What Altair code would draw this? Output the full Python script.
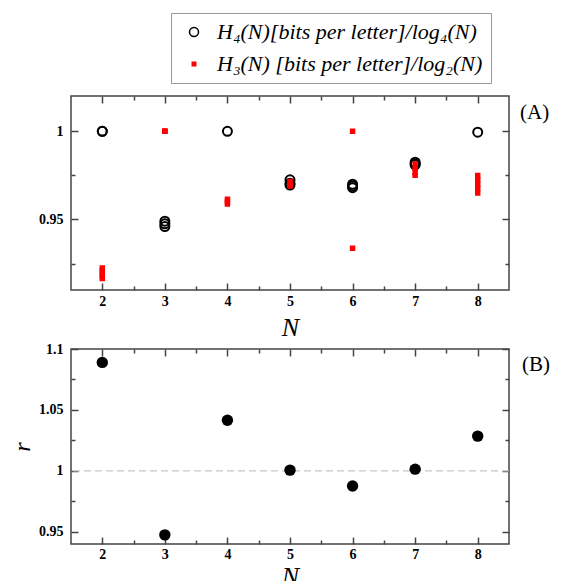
import altair as alt
import pandas as pd

LABEL_H4 = "H₄(N)[bits per letter]/log₄(N)"
LABEL_H3 = "H₃(N) [bits per letter]/log₂(N)"

# Panel A: black open circles
h4_N = [2, 2, 3, 3, 3, 4, 5, 5, 5, 6, 6, 6, 7, 7, 7, 8]
h4_vals = [1.0, 1.0, 0.949, 0.9475, 0.946, 1.0, 0.9725, 0.9705, 0.9695,
           0.970, 0.969, 0.968, 0.9825, 0.9815, 0.981, 0.9995]
# Panel A: red squares
h3_N = [2, 2, 2, 2, 2, 3, 3, 3, 4, 4, 4, 5, 5, 5, 6, 6, 7, 7, 7, 7, 8, 8, 8, 8, 8]
h3_vals = [0.9225, 0.921, 0.9195, 0.918, 0.9165, 1.0, 1.0, 1.0,
           0.9614, 0.960, 0.9588, 0.9715, 0.970, 0.969, 1.0, 0.9337,
           0.9815, 0.979, 0.9765, 0.975, 0.975, 0.9725, 0.970, 0.9675, 0.965]
# Panel B
r_N = [2, 3, 4, 5, 6, 7, 8]
r_vals = [1.089, 0.9475, 1.0415, 1.0006, 0.9876, 1.0014, 1.0285]

x_major = [2, 3, 4, 5, 6, 7, 8]
x_minor = [2.5, 3.5, 4.5, 5.5, 6.5, 7.5]
a_y_major = [0.95, 1.0]
a_y_minor = [0.925, 0.975]
b_y_major = [0.95, 1.0, 1.05, 1.1]
b_y_minor = [0.975, 1.025, 1.075]

dfA = pd.DataFrame({
    "N": h4_N + h3_N,
    "value": h4_vals + h3_vals,
    "series": [LABEL_H4] * len(h4_N) + [LABEL_H3] * len(h3_N),
})
dfB = pd.DataFrame({"N": r_N, "r": r_vals})

SERIF = "Liberation Serif"
W, HA, HB = 438, 194, 195
TICKC = "#444"

ax_common = dict(domain=False, grid=False, tickColor=TICKC, tickWidth=1.5,
                 labelFont=SERIF, labelFontWeight="bold", labelFontSize=14,
                 labelColor="black", format="~g")


def ax(orient, values, size, labels=False, title=None, **kw):
    d = dict(ax_common)
    d.update(kw)
    return alt.Axis(orient=orient, values=values, tickSize=size, offset=-size,
                    labels=labels, title=title, **d)


xscale = alt.Scale(domain=[1.5, 8.5], nice=False, zero=False)
ascale = alt.Scale(domain=[0.91, 1.02], nice=False, zero=False)
bscale = alt.Scale(domain=[0.94, 1.1], nice=False, zero=False)

xtitle = dict(titleFont=SERIF, titleFontStyle="italic", titleFontSize=26,
              titleFontWeight="normal", titleColor="black")


def frame_layers(base, xf, yf, yscale, ymaj, ymin):
    top = base.mark_point(opacity=0).encode(
        x=alt.X(xf, scale=xscale, axis=ax("top", x_major, 7)),
        y=alt.Y(yf, scale=yscale, axis=ax("right", ymaj, 7)))
    minor1 = base.mark_point(opacity=0).encode(
        x=alt.X(xf, scale=xscale, axis=ax("bottom", x_minor, 4)),
        y=alt.Y(yf, scale=yscale, axis=ax("left", ymin, 4)))
    minor2 = base.mark_point(opacity=0).encode(
        x=alt.X(xf, scale=xscale, axis=ax("top", x_minor, 4)),
        y=alt.Y(yf, scale=yscale, axis=ax("right", ymin, 4)))
    return [top, minor1, minor2]


baseA = alt.Chart(dfA)
mainA = baseA.mark_point(strokeWidth=2, opacity=1).encode(
    x=alt.X("N:Q", scale=xscale,
            axis=ax("bottom", x_major, 7, labels=True, title="N",
                    labelPadding=4, titlePadding=6, **xtitle)),
    y=alt.Y("value:Q", scale=ascale,
            axis=ax("left", a_y_major, 7, labels=True, labelPadding=8)),
    shape=alt.Shape("series:N", scale=alt.Scale(domain=[LABEL_H4, LABEL_H3], range=["circle", "square"]),
                    legend=alt.Legend(orient="none", legendX=100, legendY=-83, title=None,
                                      strokeColor="#999", padding=8, rowPadding=10,
                                      labelFont=SERIF, labelFontStyle="italic", labelFontSize=22,
                                      labelColor="black", labelOffset=12, symbolOffset=4,
                                      symbolStrokeWidth=1.5, labelLimit=400)),
    fill=alt.Fill("series:N", scale=alt.Scale(domain=[LABEL_H4, LABEL_H3], range=["transparent", "red"])),
    stroke=alt.Stroke("series:N", scale=alt.Scale(domain=[LABEL_H4, LABEL_H3], range=["black", "red"])),
    size=alt.Size("series:N", scale=alt.Scale(domain=[LABEL_H4, LABEL_H3], range=[81, 12])),
)
tagA = alt.Chart(pd.DataFrame({"t": ["(A)"]})).mark_text(
    align="left", baseline="middle", font=SERIF, fontSize=21, color="black").encode(
    text="t:N", x=alt.value(W + 11), y=alt.value(17))

panelA = alt.layer(mainA, *frame_layers(baseA, "N:Q", "value:Q", ascale, a_y_major, a_y_minor), tagA
                   ).resolve_axis(x="independent", y="independent").properties(width=W, height=HA)

baseB = alt.Chart(dfB)
ruleB = alt.Chart(pd.DataFrame({"one": [1.0]})).mark_rule(
    color="#c8c8c8", strokeDash=[7, 4], strokeWidth=1.2).encode(y=alt.Y("one:Q", scale=bscale, axis=None))
mainB = baseB.mark_circle(size=130, color="black", opacity=1).encode(
    x=alt.X("N:Q", scale=xscale,
            axis=ax("bottom", x_major, 7, labels=True, title="N",
                    labelPadding=3, titlePadding=2, **xtitle)),
    y=alt.Y("r:Q", scale=bscale,
            axis=ax("left", b_y_major, 7, labels=True, labelPadding=8, title="r",
                    titleFont=SERIF, titleFontStyle="italic", titleFontSize=24,
                    titleFontWeight="normal", titleColor="black", titlePadding=4)),
)
tagB = alt.Chart(pd.DataFrame({"t": ["(B)"]})).mark_text(
    align="left", baseline="middle", font=SERIF, fontSize=21, color="black").encode(
    text="t:N", x=alt.value(W + 13), y=alt.value(16))

panelB = alt.layer(ruleB, mainB, *frame_layers(baseB, "N:Q", "r:Q", bscale, b_y_major, b_y_minor), tagB
                   ).resolve_axis(x="independent", y="independent").properties(width=W, height=HB)

chart = alt.vconcat(panelA, panelB, spacing=0).properties(
    padding={"left": 1, "top": 4, "right": 0, "bottom": 0}
).configure_view(stroke=TICKC, strokeWidth=1.5)

chart.save("out.html", embed_options={"renderer": "svg", "actions": False})
